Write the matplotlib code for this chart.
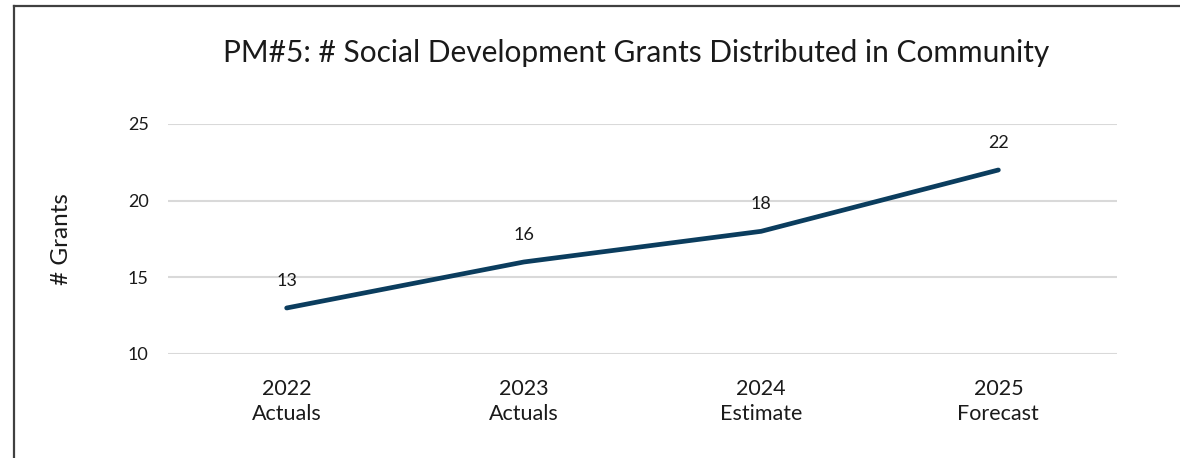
import matplotlib.pyplot as plt
from matplotlib.lines import Line2D

plt.rcParams['font.family'] = ['Lato', 'DejaVu Sans']

years = ['2022', '2023', '2024', '2025']
stages = ['Actuals', 'Actuals', 'Estimate', 'Forecast']
grants = [13, 16, 18, 22]

fig = plt.figure(figsize=(11.8, 4.58), dpi=100)
ax = fig.add_axes([0.1424, 0.2271, 0.8042, 0.5022])

x = list(range(len(years)))
ax.plot(x, grants, color='#0b3d5e', linewidth=3.4, solid_capstyle='round')

for xi, v in zip(x, grants):
    ax.annotate(str(v), (xi, v), xytext=(0, 14), textcoords='offset points',
                ha='center', va='bottom', fontsize=13, color='#1a1a1a')

ax.set_xlim(-0.5, 3.5)
ax.set_ylim(10, 25)
ax.set_yticks([10, 15, 20, 25])
ax.set_xticks(x)
ax.set_xticklabels([f'{y}\n{s}' for y, s in zip(years, stages)],
                   fontsize=15.5, color='#1a1a1a', linespacing=1.3)
ax.tick_params(axis='y', labelsize=13, colors='#1a1a1a', length=0, pad=14)
ax.tick_params(axis='x', length=0, pad=18)
ax.grid(axis='y', color='#d9d9d9', linewidth=1.5)
ax.set_axisbelow(True)
for s in ax.spines.values():
    s.set_visible(False)

ax.set_ylabel('# Grants', fontsize=17.5, color='#1a1a1a', labelpad=40)
fig.text(0.539, 0.885, 'PM#5: # Social Development Grants Distributed in Community',
         ha='center', va='center', fontsize=21.5, color='#1a1a1a')

# frame edges on the left and top
fig.add_artist(Line2D([14 / 1180, 14 / 1180], [0, 1 - 6 / 458],
                      transform=fig.transFigure, color='#404040', linewidth=1.6))
fig.add_artist(Line2D([14 / 1180, 1], [1 - 6 / 458, 1 - 6 / 458],
                      transform=fig.transFigure, color='#404040', linewidth=1.6))

fig.savefig('out.png', dpi=100)
